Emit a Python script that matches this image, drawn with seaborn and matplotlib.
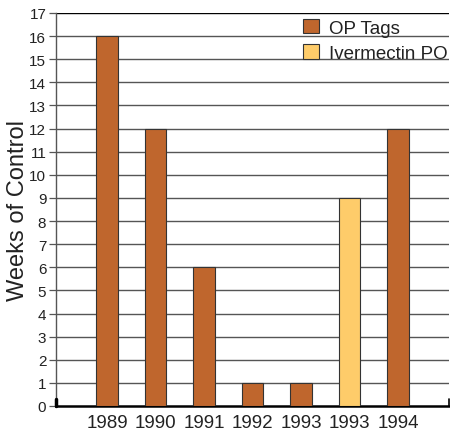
import matplotlib
matplotlib.use("Agg")
import matplotlib.pyplot as plt
import seaborn as sns
import pandas as pd

years = ["1989", "1990", "1991", "1992", "1993", "1993", "1994"]
weeks = [16, 12, 6, 1, 1, 9, 12]
treatment = ["OP Tags", "OP Tags", "OP Tags", "OP Tags", "OP Tags", "Ivermectin PO", "OP Tags"]
yticks = list(range(0, 18))

colors = {"OP Tags": "#BF662D", "Ivermectin PO": "#FECC6A"}

sns.set_style("white")
plt.rcParams["font.family"] = ["Liberation Sans", "DejaVu Sans"]

df = pd.DataFrame({"slot": list(range(len(years))), "year": years,
                   "weeks": weeks, "treatment": treatment})

fig = plt.figure(figsize=(4.5, 4.35), dpi=100)
ax = fig.add_axes([56 / 450, 1 - 407 / 435, 393 / 450, 393 / 435])

sns.barplot(data=df, x="slot", y="weeks", hue="treatment", dodge=False,
            palette=colors, hue_order=["OP Tags", "Ivermectin PO"],
            saturation=1, width=0.45, edgecolor="#333333", linewidth=0.8,
            ax=ax, zorder=3, legend=False)

ax.set_xlim(-1.05, 7.05)
ax.set_ylim(0, 17)
ax.set_yticks(yticks)
ax.set_yticklabels([str(t) for t in yticks], fontsize=11, color="#222222")
ax.set_xticks(range(len(years)))
ax.set_xticklabels(years, fontsize=13.5, color="#222222")
ax.set_xlabel("")
ax.set_ylabel("Weeks of Control", fontsize=17, color="#222222")
ax.yaxis.set_label_coords(-0.068, 0.5)

# horizontal rules at every whole week
for t in yticks[1:]:
    ax.axhline(t, color="#000000" if t == 17 else "#555555", lw=1.0, zorder=1)

ax.tick_params(axis="y", which="both", direction="out", length=5, width=0.9,
               color="#555555", left=True, pad=2)
ax.tick_params(axis="x", length=0, pad=6)

for side in ["top", "right"]:
    ax.spines[side].set_visible(False)
ax.spines["left"].set_color("#555555")
ax.spines["left"].set_linewidth(1.0)
ax.spines["bottom"].set_color("#000000")
ax.spines["bottom"].set_linewidth(1.8)

# short end marks on the baseline
ax.plot([-1.05, -1.05], [0, 0.3], color="#000000", lw=2.5, clip_on=False, zorder=4)
ax.plot([7.04, 7.04], [0, 0.3], color="#000000", lw=1.2, clip_on=False, zorder=4)

handles = [plt.Rectangle((0, 0), 1, 1, facecolor=colors[k], edgecolor="#333333", lw=0.8)
           for k in ["OP Tags", "Ivermectin PO"]]
leg = ax.legend(handles, ["OP Tags", "Ivermectin PO"], loc="upper left",
                bbox_to_anchor=(0.61, 1.005), frameon=False, fontsize=13.5,
                handlelength=0.85, handleheight=0.85, handletextpad=0.5,
                labelspacing=0.4, borderaxespad=0)
for txt in leg.get_texts():
    txt.set_color("#222222")

fig.savefig("out.png", dpi=100)
